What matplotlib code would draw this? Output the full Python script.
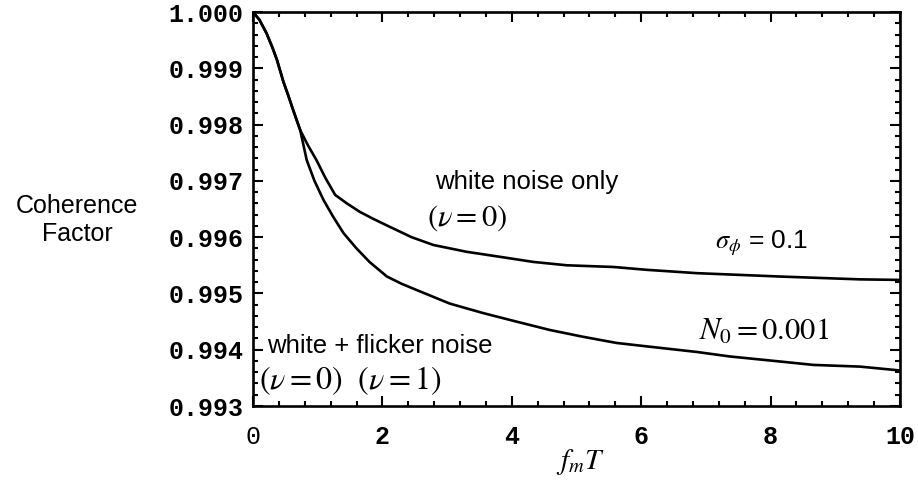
import matplotlib
matplotlib.use("Agg")
import matplotlib.pyplot as plt
from matplotlib.ticker import MultipleLocator, FixedLocator

plt.rcParams['mathtext.fontset'] = 'stix'

# Shared initial segment (both curves coincide)
x_shared = [0.0, 0.1, 0.21, 0.30, 0.37, 0.47, 0.55, 0.62, 0.73]
y_shared = [1.0, 0.99986, 0.99962, 0.99937, 0.99915, 0.99876, 0.99850, 0.99826, 0.99790]

# White noise only (nu = 0)
x_white = [0.85, 0.98, 1.12, 1.27, 1.45, 1.65, 1.85, 2.12, 2.45, 2.79, 3.30,
           3.82, 4.33, 4.85, 5.57, 6.08, 6.86, 8.15, 9.38, 10.0]
y_white = [0.99763, 0.99737, 0.99705, 0.99675, 0.99660, 0.99645, 0.99633,
           0.99618, 0.99600, 0.99586, 0.99574, 0.99565, 0.99556, 0.99550,
           0.99547, 0.99542, 0.99536, 0.99530, 0.99525, 0.99524]

# White + flicker noise
x_flick = [0.83, 0.95, 1.09, 1.24, 1.40, 1.60, 1.80, 2.07, 2.30, 2.53, 3.04,
           3.56, 4.07, 4.59, 5.10, 5.62, 6.08, 6.86, 7.37, 8.15, 8.66, 9.38,
           9.92, 10.0]
y_flick = [0.99737, 0.99700, 0.99666, 0.99636, 0.99607, 0.99580, 0.99556,
           0.99530, 0.99517, 0.99506, 0.99482, 0.99465, 0.99450, 0.99435,
           0.99423, 0.99412, 0.99406, 0.99396, 0.99388, 0.99379, 0.99373,
           0.99370, 0.99364, 0.99363]

xticks = [0, 2, 4, 6, 8, 10]
xtick_labels = ['0', '2', '4', '6', '8', '10']
yticks = [0.993, 0.994, 0.995, 0.996, 0.997, 0.998, 0.999, 1.000]
ytick_labels = ['0.993', '0.994', '0.995', '0.996', '0.997', '0.998', '0.999', '1.000']

fig = plt.figure(figsize=(9.18, 4.84), dpi=100)
ax = fig.add_axes([253/918, 78/484, 647/918, 394/484])

lw = 1.9
ax.plot(x_shared + x_white, y_shared + y_white, color='black', lw=lw)
ax.plot(x_shared + x_flick, y_shared + y_flick, color='black', lw=lw)

ax.set_xlim(0, 10)
ax.set_ylim(0.993, 1.000)
for s in ax.spines.values():
    s.set_linewidth(1.9)

ax.xaxis.set_major_locator(FixedLocator(xticks))
ax.yaxis.set_major_locator(FixedLocator(yticks))
ax.xaxis.set_minor_locator(MultipleLocator(0.4))
ax.yaxis.set_minor_locator(MultipleLocator(0.0002))
ax.tick_params(which='both', direction='in', top=True, right=True, width=1.5)
ax.tick_params(which='major', length=7)
ax.tick_params(which='minor', length=3.5)
ax.tick_params(axis='x', which='major', pad=14)
ax.tick_params(axis='y', which='major', pad=7)

ax.set_xticklabels(xtick_labels, family='Liberation Mono', fontweight='bold', fontsize=18)
ax.set_yticklabels(ytick_labels, family='Liberation Mono', fontweight='bold', fontsize=18)
ax.get_xticklabels()[0].set_fontweight('normal')

fig.text(77/918, 1 - 220/484, 'Coherence\nFactor', ha='center', va='center',
         family='Liberation Sans', fontsize=18, linespacing=1.2)
fig.text(580/918, 1 - 462/484, r'$f_m T$', ha='center', va='center', fontsize=21)

def ftxt(px, py, s, **kw):
    fig.text(px/918, 1 - py/484, s, **kw)

ftxt(527, 182, 'white noise only', ha='center', va='center',
     family='Liberation Sans', fontsize=18.5)
ftxt(467, 218, r'$(\nu = 0)$', ha='center', va='center', fontsize=22)
ftxt(762, 243, r'$\sigma_{\phi}$ = 0.1', ha='center', va='center',
     family='Liberation Sans', fontsize=19)
ftxt(764, 331, r'$N_0 = 0.001$', ha='center', va='center', fontsize=22)
ftxt(267, 346, 'white + flicker noise', ha='left', va='center',
     family='Liberation Sans', fontsize=18.5)
ftxt(259, 381, r'$(\nu = 0)\ \ (\nu = 1)$', ha='left', va='center', fontsize=23)

fig.savefig('out.png', dpi=100)
